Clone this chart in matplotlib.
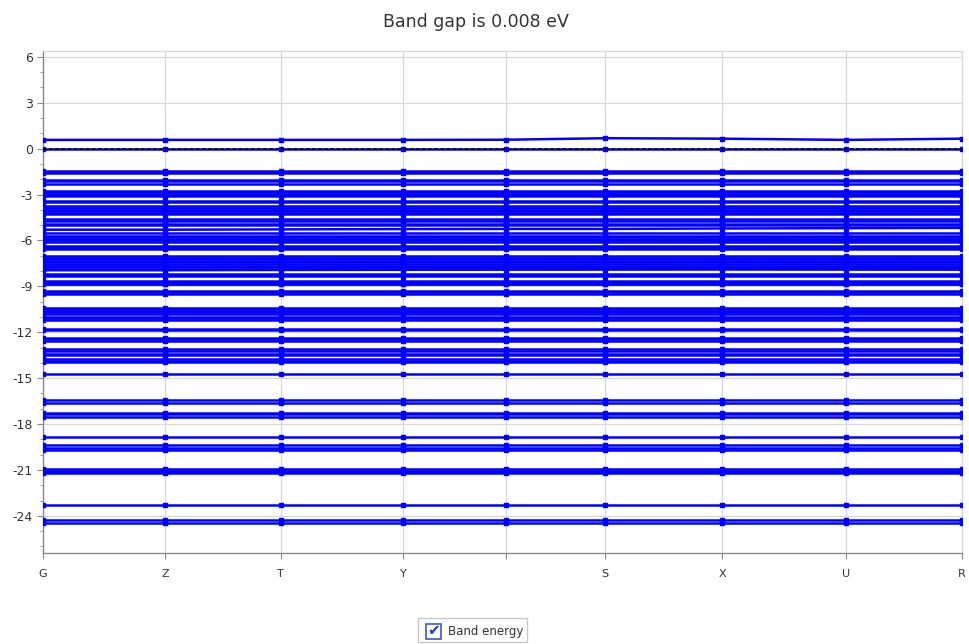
"""
Band structure plot along the high-symmetry path G-Z-T-Y-S-X-U-R.
"""

import matplotlib
matplotlib.use("Agg")
import matplotlib.pyplot as plt
from matplotlib.patches import Rectangle
from matplotlib.ticker import MultipleLocator

plt.rcParams["axes.unicode_minus"] = False

# path positions (fraction of total path length) and their labels
KPATH = [0.0, 0.133, 0.259, 0.392, 0.504, 0.612, 0.739, 0.874, 1.0]
KLABELS = ["G", "Z", "T", "Y", "", "S", "X", "U", "R"]

BAND_GAP = 0.008

# bands with visible dispersion along the path (eV, one value per k-point)
DISPERSIVE_BANDS = [
    [0.57, 0.57, 0.57, 0.57, 0.58, 0.68, 0.65, 0.57, 0.65],
    [-5.30, -5.30, -5.28, -5.26, -5.25, -5.25, -5.22, -5.20, -5.18],
    [-7.95, -7.95, -7.93, -7.92, -7.90, -7.88, -7.86, -7.88, -7.90],
]

# nearly flat bands (eV)
FLAT_BANDS = [
    0.0,
    -1.45, -1.55, -1.60,
    -2.05, -2.10, -2.33,
    -2.75, -2.85, -2.95, -3.05, -3.12,
    -3.45, -3.52,
    -3.78, -3.88, -3.98, -4.08, -4.18, -4.27,
    -4.62, -4.70, -4.93, -5.01, -5.50,
    -5.69, -5.79, -5.89, -5.99, -6.09,
    -6.34, -6.44, -6.52, -6.59,
    -7.04, -7.14, -7.24, -7.34, -7.44, -7.54, -7.64, -7.74, -7.85,
    -8.19, -8.26, -8.33,
    -8.63, -8.73, -8.83, -8.88,
    -9.32, -9.40, -9.48,
    -10.41, -10.51, -10.61, -10.71, -10.83,
    -11.00, -11.10, -11.22,
    -11.82, -11.88,
    -12.37, -12.47, -12.58,
    -13.10, -13.25, -13.40, -13.50,
    -13.75, -13.85, -13.95,
    -14.70,
    -16.45, -16.60,
    -17.25, -17.35, -17.55,
    -18.85,
    -19.37, -19.55, -19.70,
    -20.95, -21.05, -21.15, -21.22,
    -23.29,
    -24.25, -24.45,
]

BLUE = "#0000ff"
GRID = "#d8d8d8"
TEXT = "#333333"

fig = plt.figure(figsize=(9.69, 6.44), dpi=100)
ax = fig.add_axes([42.7 / 969, 1 - 553.3 / 644, (962 - 42.7) / 969, (553.3 - 50.7) / 644])

line_kw = dict(color=BLUE, lw=1.8, marker="s", ms=2.8, mec=BLUE, mfc=BLUE, zorder=3)
for e in FLAT_BANDS:
    ax.plot(KPATH, [e] * len(KPATH), **line_kw)
for band in DISPERSIVE_BANDS:
    ax.plot(KPATH, band, **line_kw)

# Fermi level
ax.axhline(0.0, color="black", lw=1.1, ls=(0, (2.5, 1.5)), zorder=4)

ax.set_xlim(KPATH[0], KPATH[-1])
ax.set_ylim(-26.45, 6.4)

ax.set_xticks(KPATH)
ax.set_xticklabels(KLABELS)
ax.yaxis.set_major_locator(MultipleLocator(3))
ax.yaxis.set_minor_locator(MultipleLocator(1))
ax.set_yticks(range(-24, 7, 3))

ax.grid(True, which="major", color=GRID, lw=0.9, zorder=0)
ax.set_axisbelow(True)

for side in ("top", "right"):
    ax.spines[side].set_color(GRID)
    ax.spines[side].set_linewidth(0.9)
for side in ("left", "bottom"):
    ax.spines[side].set_color("#8a8a8a")
    ax.spines[side].set_linewidth(1.0)

ax.tick_params(axis="y", which="major", length=4, color="#8a8a8a", labelsize=9,
               labelcolor=TEXT, pad=3)
ax.tick_params(axis="y", which="minor", length=2, color="#8a8a8a")
ax.tick_params(axis="x", length=4, color="#8a8a8a", labelsize=8, labelcolor=TEXT, pad=7)

fig.text(476 / 969, 1 - 22 / 644, f"Band gap is {BAND_GAP:.3f} eV",
         ha="center", va="center", fontsize=12.5, color=TEXT)

# checkbox-style legend below the plot
fig.patches.append(Rectangle((418 / 969, 1 - 642 / 644), 109 / 969, 24 / 644,
                             transform=fig.transFigure, fc="white", ec="#c8c8c8", lw=1.0))
fig.patches.append(Rectangle((426 / 969, 1 - 639 / 644), 15 / 969, 15 / 644,
                             transform=fig.transFigure, fc="white", ec="#3a55d8", lw=1.2))
fig.text(433.5 / 969, 1 - 631 / 644, "\u2714", ha="center", va="center",
         fontsize=11, color="#1f3fd0")
fig.text(448 / 969, 1 - 631 / 644, "Band energy", ha="left", va="center",
         fontsize=8.5, color=TEXT)

fig.savefig("out.png", dpi=100)
